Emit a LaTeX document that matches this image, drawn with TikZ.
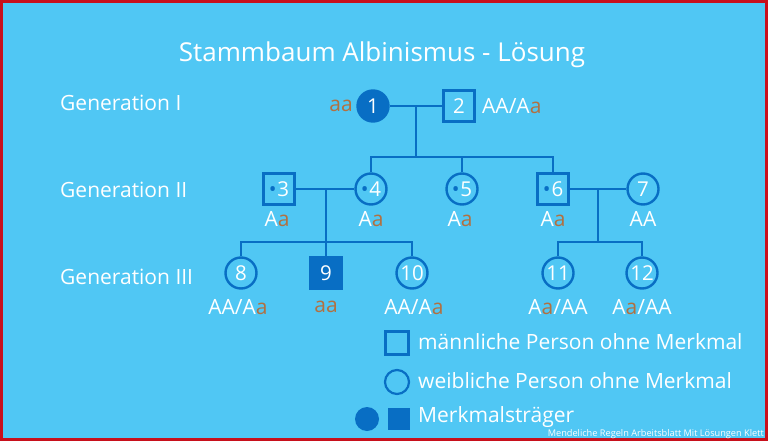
\documentclass[tikz,border=0pt]{standalone}
\usepackage{fontspec}
\setmainfont{Open Sans}
\definecolor{bg}{RGB}{80,199,244}
\definecolor{dblue}{RGB}{8,110,196}
\definecolor{brn}{RGB}{178,112,64}
\definecolor{framered}{RGB}{200,16,28}
\newcommand{\la}{\textcolor{brn}{a}}
\newcommand{\cdt}{\textcolor{dblue}{\textbullet}\hspace{1pt}}
\begin{document}
\begin{tikzpicture}[x=1pt,y=-1pt,
  conn/.style={draw=dblue,line width=2.6pt},
  person/.style={draw=dblue,line width=2.4pt,inner sep=0pt,text=white,
    font=\fontsize{20.5}{20.5}\selectfont},
  fem/.style={person,circle,minimum size=31pt},
  mal/.style={person,rectangle,minimum size=31pt},
  aff/.style={fill=dblue},
  geno/.style={text=white,inner sep=0pt,font=\fontsize{21}{21}\selectfont},
  genlabel/.style={text=white,inner sep=0pt,anchor=west,font=\fontsize{21}{21}\selectfont},
  legtext/.style={text=white,inner sep=0pt,anchor=west,font=\fontsize{21}{21}\selectfont}]
\useasboundingbox (0,0) rectangle (768,441);
\fill[framered] (0,0) rectangle (768,441);
\fill[bg] (3,3) rectangle (765,438);

\node[text=white,font=\fontsize{26}{26}\selectfont] (title) at (382,55) {Stammbaum Albinismus - Lösung};

\node[genlabel] (g1) at (60,103) {Generation I};
\node[genlabel] (g2) at (60,190) {Generation II};
\node[genlabel] (g3) at (60,277) {Generation III};

% Generation I
\node[fem,aff] (n1) at (373,106) {1};
\node[mal] (n2) at (459,106) {2};
\node[geno,anchor=east] (l1) at (353,106) {\textcolor{brn}{aa}};
\node[geno,anchor=west] (l2) at (482,106) {AA/A\la};

% Generation II
\node[mal] (n3) at (279,189) {\cdt3};
\node[fem] (n4) at (371,189) {\cdt4};
\node[fem] (n5) at (462,189) {\cdt5};
\node[mal] (n6) at (553,189) {\cdt6};
\node[fem] (n7) at (643,189) {7};
\node[geno] (l3) at (277,219) {A\la};
\node[geno] (l4) at (371,219) {A\la};
\node[geno] (l5) at (460,219) {A\la};
\node[geno] (l6) at (553,219) {A\la};
\node[geno] (l7) at (643,219) {AA};

% Generation III
\node[fem] (n8) at (241,273) {8};
\node[mal,aff] (n9) at (326,273) {9};
\node[fem] (n10) at (412,273) {10};
\node[fem] (n11) at (558,273) {11};
\node[fem] (n12) at (642,273) {12};
\node[geno] (l8) at (238,307) {AA/A\la};
\node[geno] (l9) at (326,307) {\textcolor{brn}{aa}};
\node[geno] (l10) at (414,307) {AA/A\la};
\node[geno] (l11) at (558,307) {A\la/AA};
\node[geno] (l12) at (642,307) {A\la/AA};

% connectors
\coordinate (m12) at (416,106);
\coordinate (s1) at (416,157);
\draw[conn] (n1) -- (n2);
\draw[conn] (m12) -- (s1);
\draw[conn] (n4.north) -- (n4.north |- s1) -- (n6.north |- s1) -- (n6.north);
\draw[conn] (n5.north) -- (n5.north |- s1);

\coordinate (m34) at (326,189);
\coordinate (s2) at (326,242);
\draw[conn] (n3) -- (n4);
\draw[conn] (m34) -- (n9.north);
\draw[conn] (n8.north) -- (n8.north |- s2) -- (n10.north |- s2) -- (n10.north);

\coordinate (m67) at (598,189);
\coordinate (s3) at (598,242);
\draw[conn] (n6) -- (n7);
\draw[conn] (m67) -- (s3);
\draw[conn] (n11.north) -- (n11.north |- s3) -- (n12.north |- s3) -- (n12.north);

% legend
\node[draw=dblue,line width=2.2pt,minimum size=23pt,inner sep=0pt] (lm) at (397,343) {};
\node[draw=dblue,line width=2.2pt,circle,minimum size=24pt,inner sep=0pt] (lf) at (397,382) {};
\node[fill=dblue,circle,minimum size=24pt,inner sep=0pt] (la1) at (367,419) {};
\node[fill=dblue,minimum size=22pt,inner sep=0pt] (la2) at (399,419) {};
\node[legtext] (t1) at (418,342) {männliche Person ohne Merkmal};
\node[legtext] (t2) at (418,381) {weibliche Person ohne Merkmal};
\node[legtext] (t3) at (418,417) {Merkmalsträger};

\node[text=white,inner sep=0pt,anchor=east,font=\fontsize{9.2}{9.2}\selectfont] (wm) at (764,434) {Mendeliche Regeln Arbeitsblatt Mit Lösungen Klett};
\end{tikzpicture}
\end{document}
